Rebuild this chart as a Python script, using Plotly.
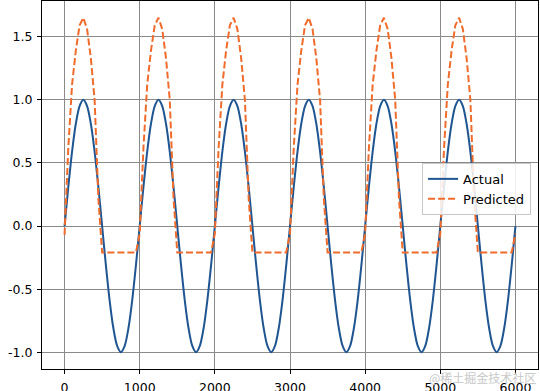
import plotly.graph_objects as go

# ---- data ----
x_values = list(range(0, 6001, 50))

actual = [
    0.0, 0.31, 0.59, 0.81, 0.95, 1.0, 0.95, 0.81, 0.59, 0.31, 0.0, -0.31, -0.59, -0.81, -0.95, -1.0, -0.95, -0.81, -0.59, -0.31,
    0.0, 0.31, 0.59, 0.81, 0.95, 1.0, 0.95, 0.81, 0.59, 0.31, 0.0, -0.31, -0.59, -0.81, -0.95, -1.0, -0.95, -0.81, -0.59, -0.31,
    0.0, 0.31, 0.59, 0.81, 0.95, 1.0, 0.95, 0.81, 0.59, 0.31, 0.0, -0.31, -0.59, -0.81, -0.95, -1.0, -0.95, -0.81, -0.59, -0.31,
    0.0, 0.31, 0.59, 0.81, 0.95, 1.0, 0.95, 0.81, 0.59, 0.31, 0.0, -0.31, -0.59, -0.81, -0.95, -1.0, -0.95, -0.81, -0.59, -0.31,
    0.0, 0.31, 0.59, 0.81, 0.95, 1.0, 0.95, 0.81, 0.59, 0.31, 0.0, -0.31, -0.59, -0.81, -0.95, -1.0, -0.95, -0.81, -0.59, -0.31,
    0.0, 0.31, 0.59, 0.81, 0.95, 1.0, 0.95, 0.81, 0.59, 0.31, 0.0, -0.31, -0.59, -0.81, -0.95, -1.0, -0.95, -0.81, -0.59, -0.31,
    0.0,
]

predicted = [
    -0.07, 0.62, 1.12, 1.39, 1.59, 1.65, 1.56, 1.33, 1.0, 0.22, -0.21, -0.21, -0.21, -0.21, -0.21, -0.21, -0.21, -0.21, -0.21, -0.21,
    -0.06, 0.62, 1.12, 1.39, 1.59, 1.65, 1.56, 1.33, 1.0, 0.22, -0.21, -0.21, -0.21, -0.21, -0.21, -0.21, -0.21, -0.21, -0.21, -0.21,
    -0.06, 0.62, 1.12, 1.39, 1.59, 1.65, 1.56, 1.33, 1.0, 0.22, -0.21, -0.21, -0.21, -0.21, -0.21, -0.21, -0.21, -0.21, -0.21, -0.21,
    -0.06, 0.62, 1.12, 1.39, 1.59, 1.65, 1.56, 1.33, 1.0, 0.22, -0.21, -0.21, -0.21, -0.21, -0.21, -0.21, -0.21, -0.21, -0.21, -0.21,
    -0.06, 0.62, 1.12, 1.39, 1.59, 1.65, 1.56, 1.33, 1.0, 0.22, -0.21, -0.21, -0.21, -0.21, -0.21, -0.21, -0.21, -0.21, -0.21, -0.21,
    -0.06, 0.62, 1.12, 1.39, 1.59, 1.65, 1.56, 1.33, 1.0, 0.22, -0.21, -0.21, -0.21, -0.21, -0.21, -0.21, -0.21, -0.21, -0.21, -0.21,
    -0.06,
]

series_names = ["Actual", "Predicted"]
x_ticks = [0, 1000, 2000, 3000, 4000, 5000, 6000]
y_ticks = [-1.0, -0.5, 0.0, 0.5, 1.0, 1.5]
watermark = "@稀土掘金技术社区"

# ---- figure ----
fig = go.Figure()
fig.add_trace(go.Scatter(
    x=x_values, y=actual, name=series_names[0], mode="lines",
    line=dict(color="#1f5591", width=2, shape="spline", smoothing=0.8),
))
fig.add_trace(go.Scatter(
    x=x_values, y=predicted, name=series_names[1], mode="lines",
    line=dict(color="#ef6c2c", width=2, dash="7px,3px"),
))

axis_common = dict(
    automargin=False,
    showgrid=True, gridcolor="#8a8a8a", gridwidth=1,
    zeroline=False, showline=True, linecolor="black", linewidth=1,
    mirror=True, ticks="outside", ticklen=4, tickcolor="black", tickwidth=1,
    tickfont=dict(family="DejaVu Sans", size=12.5, color="black"),
)

fig.update_xaxes(range=[-300, 6300], tickvals=x_ticks,
                 ticktext=[str(v) for v in x_ticks], ticklabelstandoff=3, **axis_common)
fig.update_yaxes(range=[-1.1325, 1.7825], tickvals=y_ticks,
                 ticktext=[f"{v:.1f}" for v in y_ticks], ticklabelstandoff=2, **axis_common)

fig.update_layout(
    width=540, height=391,
    margin=dict(l=42, r=2, t=1, b=22),
    paper_bgcolor="white", plot_bgcolor="white",
    font=dict(family="DejaVu Sans", size=13, color="black"),
    showlegend=True,
    legend=dict(
        x=0.986, y=0.56, xanchor="right", yanchor="top",
        bgcolor="rgba(255,255,255,0.85)", bordercolor="#c8c8c8", borderwidth=1,
        font=dict(family="DejaVu Sans", size=13, color="black"),
        itemwidth=30,
    ),
    annotations=[dict(
        text=watermark, xref="paper", yref="paper", x=1.0, y=-0.022,
        xanchor="right", yanchor="middle", showarrow=False,
        font=dict(family="Noto Sans CJK SC", size=12, color="#c8c8c8"),
    )],
)

fig.write_html(
    "out.html",
    config={"displayModeBar": False},
    post_script="document.body.style.margin='0';document.body.style.padding='0';document.body.style.overflow='hidden';",
)
